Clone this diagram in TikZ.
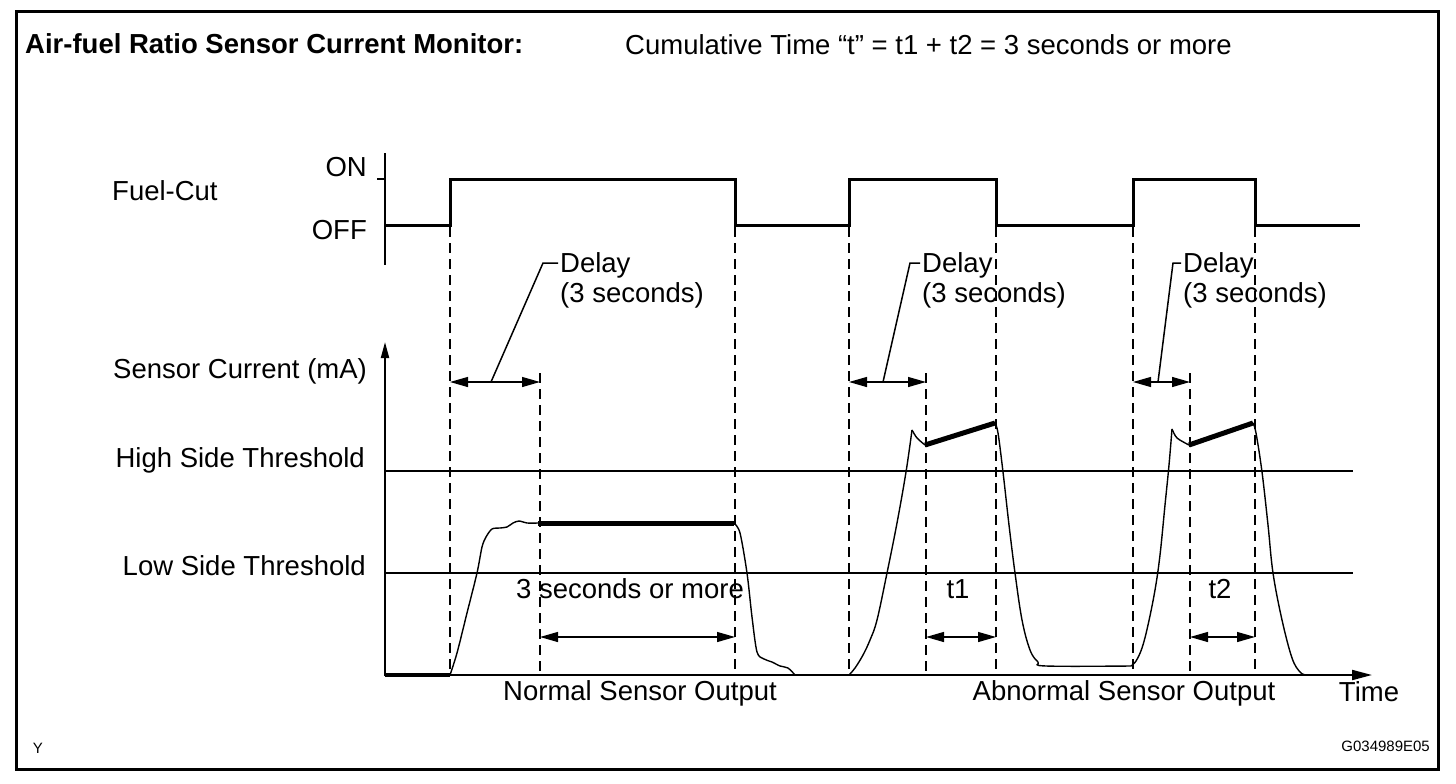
\documentclass[tikz,border=0pt]{standalone}
\usepackage{fontspec}
\setmainfont{Liberation Sans}
\usetikzlibrary{arrows.meta, positioning}
\tikzstyle{lbl} = [inner sep=0pt, font=\fontsize{27.5}{30}\selectfont]
\tikzstyle{tiny} = [inner sep=0pt, font=\fontsize{15}{18}\selectfont]
\tikzstyle{axis} = [line width=2pt]
\tikzstyle{signal} = [line width=3pt]
\tikzstyle{guide} = [line width=1.8pt, dash pattern=on 10pt off 6pt]
\tikzstyle{guidethin} = [line width=1.2pt, dash pattern=on 10pt off 6pt]
\tikzstyle{dim} = [line width=1.3pt, {Triangle[length=18pt,width=10pt]}-{Triangle[length=18pt,width=10pt]}]
\tikzstyle{lead} = [line width=1.5pt]
\tikzstyle{wave} = [line width=1.4pt]
\tikzstyle{hold} = [line width=5pt]

\begin{document}
\begin{tikzpicture}[x=1pt, y=-1pt]
    \useasboundingbox (0,0) rectangle (1456,784);
    \draw[line width=3pt] (16,12) rectangle (1438,769);
    \node[lbl, font=\bfseries\fontsize{27.5}{30}\selectfont, anchor=base west] (title) at (25,53) {Air-fuel Ratio Sensor Current Monitor:};
    \node[lbl, anchor=base west] (cumul) at (625,55) {Cumulative Time “t” = t1 + t2 = 3 seconds or more};

    \node[lbl, anchor=west] (fuelcut) at (112,191) {Fuel-Cut};
    \node[lbl, anchor=east] (on) at (367,167) {ON};
    \node[lbl, anchor=east] (off) at (367,230) {OFF};
    \node[lbl, anchor=west] (current) at (113,371) {Sensor Current (mA)};
    \node[lbl, anchor=east] (high) at (365,460) {High Side Threshold};
    \node[lbl, anchor=east] (low) at (366,566) {Low Side Threshold};

    \draw[axis] (385,153) -- (385,265);
    \draw[axis] (377,179) -- (385,179);
    \draw[signal] (385,225) -- (450,225) |- (735,179) |- (849,225) |- (996,179) |- (1133,225) |- (1255,179) |- (1360,225);

    \draw[axis, -{Triangle[length=16pt,width=8pt]}] (385,676) -- (385,342);
    \draw[axis, -{Triangle[length=20pt,width=10pt]}] (385,675) -- (1372,675);
    \draw[line width=2pt] (385,471) -- (1353,471);
    \draw[line width=1.3pt] (385,573) -- (1353,573);

    \foreach \x in {450,735,849,996,1133,1255}
        \draw[guide] (\x,227) -- (\x,675);
    \foreach \x in {540,926,1190}
        \draw[guidethin] (\x,373) -- (\x,675);

    \draw[hold, line width=3.5pt] (385,675) -- (450,675);
    \draw[wave] plot[smooth, tension=0.5] coordinates {(450,675) (457,653) (467,613) (477,573) (482,547) (486,537) (492,529) (500,528) (507,527) (513,523) (519,521) (527,523) (538,523)};
    \draw[hold] (538,523) -- (734,523);
    \draw[wave] plot[smooth, tension=0.5] coordinates {(734,523) (740,533) (747,573) (752,617) (757,652) (764,659) (772,662) (780,666) (788,668) (795,675)};

    \draw[wave] plot[smooth, tension=0.6] coordinates {(849,675) (855,668) (863,655) (870,640) (877,620) (887,573) (897,523) (906,472) (912,430)};
    \draw[wave] plot[smooth, tension=0.5] coordinates {(912,430) (917,438) (925,445)};
    \draw[hold] (925,445) -- (995,423);
    \draw[wave] plot[smooth, tension=0.6] coordinates {(995,423) (998,433) (1003,472) (1009,525) (1015,573) (1022,620) (1030,650) (1038,662) (1046,666) (1131,666)};
    \draw[wave] plot[smooth, tension=0.6] coordinates {(1131,666) (1136,661) (1142,648) (1148,625) (1155,590) (1160,555) (1165,505) (1169,465) (1172,429)};
    \draw[wave] plot[smooth, tension=0.5] coordinates {(1172,429) (1177,438) (1189,445)};
    \draw[hold] (1189,445) -- (1253,423);
    \draw[wave] plot[smooth, tension=0.6] coordinates {(1253,423) (1256,433) (1262,472) (1268,525) (1273,573) (1282,620) (1292,658) (1300,672) (1306,675)};

    \draw[dim] (450,382) -- (540,382);
    \draw[dim] (849,382) -- (926,382);
    \draw[dim] (1133,382) -- (1190,382);
    \node[lbl, align=left, anchor=north west] (delay1) at (560,252) {Delay\\(3 seconds)};
    \node[lbl, align=left, anchor=north west] (delay2) at (922,252) {Delay\\(3 seconds)};
    \node[lbl, align=left, anchor=north west] (delay3) at (1183,252) {Delay\\(3 seconds)};
    \draw[lead] (491,382) -- (543,263) -- (558,263);
    \draw[lead] (883,382) -- (910,263) -- (920,263);
    \draw[lead] (1158,382) -- (1173,263) -- (1181,263);

    \node[lbl] (more) at (630,589) {3 seconds or more};
    \node[lbl] (t1) at (958,589) {t1};
    \node[lbl] (t2) at (1220,589) {t2};
    \draw[dim] (540,637) -- (735,637);
    \draw[dim] (926,637) -- (996,637);
    \draw[dim] (1190,637) -- (1255,637);

    \node[lbl] (normal) at (640,693) {Normal Sensor Output};
    \node[lbl] (abnormal) at (1124,693) {Abnormal Sensor Output};
    \node[lbl] (time) at (1369,692) {Time};
    \node[tiny] (y) at (38,748) {Y};
    \node[tiny, anchor=east] (code) at (1430,746) {G034989E05};
\end{tikzpicture}
\end{document}
